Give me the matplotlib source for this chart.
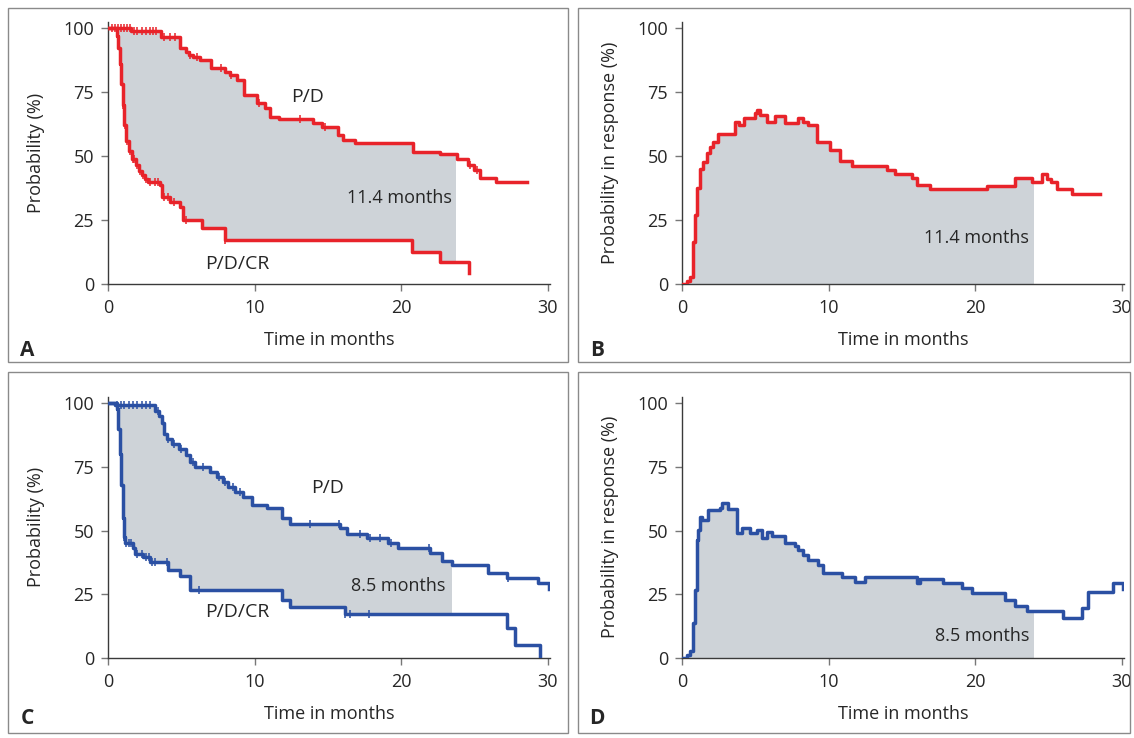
import numpy as np
import matplotlib
matplotlib.use("Agg")
import matplotlib.pyplot as plt
from matplotlib.patches import Rectangle

plt.rcParams['font.family'] = ['Open Sans', 'DejaVu Sans']

RED = '#e8232a'
BLUE = '#2b50a3'
FILL = '#ced3d8'
TXT = '#262626'

# panel A: survival curves (months, %)
a_pd_t = [0, 1.6, 3.6, 4.9, 5.3, 5.5, 5.8, 6.3, 7.0, 8.0, 8.3, 8.8, 9.3, 10.15, 10.75, 11.05, 11.7, 14.0,
          14.6, 15.7, 16.05, 16.85, 20.8, 22.65, 23.8, 24.6, 24.95, 25.4, 26.5, 28.6]
a_pd_y = [100, 99, 96.5, 92, 90.7, 89.5, 88.8, 87.5, 84.2, 83, 81.6, 79.7, 73.8, 70.6, 68.6, 65.4, 64.5, 62.8,
          61.5, 58.2, 56.3, 55, 51.7, 50.6, 48.8, 46.5, 44.5, 41.3, 39.7, 39.7]
a_cr_t = [0, 0.6, 0.7, 0.8, 0.9, 1.0, 1.1, 1.25, 1.45, 1.65, 1.9, 2.1, 2.3, 2.5, 2.7, 3.55, 3.66, 4.23,
          4.91, 5.14, 6.39, 8.0, 20.77, 22.66, 24.66]
a_cr_y = [100, 97, 92, 86, 78, 70, 62, 56, 52, 49, 46.5, 44, 42.5, 41, 40, 38.7, 34, 32,
          30, 25, 21.7, 17.2, 12.6, 8.5, 4.2]
a_pd_cens = [0.3, 0.5, 0.7, 0.9, 1.1, 1.3, 1.5, 1.8, 2.0, 2.3, 2.6, 2.9, 3.1, 3.3, 3.8, 4.2, 4.6,
             5.6, 6.1, 7.7, 8.4, 10.3, 13.1, 14.8, 24.7, 25.2]
a_cr_cens = [1.05, 1.15, 1.3, 1.5, 1.7, 1.8, 2.0, 2.2, 2.4, 2.6, 2.9, 3.2, 3.4, 3.8, 4.1, 4.5, 5.3, 8.0]
a_end = 23.75

# panel B: probability in response
b_t = [0, 0.32, 0.55, 0.77, 0.89, 1.0, 1.23, 1.46, 1.68, 1.91, 2.14, 2.43, 3.62, 3.89, 4.23, 4.98, 5.1,
       5.32, 5.78, 6.35, 7.03, 7.94, 8.28, 8.62, 9.19, 10.1, 10.78, 11.58, 13.97, 14.54, 15.68, 16.02,
       16.93, 20.8, 22.73, 23.87, 24.55, 24.9, 25.2, 25.57, 26.6, 28.53]
b_y = [0, 1.3, 2.6, 16.5, 27, 37.4, 45, 47.8, 51, 53.6, 55.6, 58.5, 63.4, 62, 64.7, 66.7, 68,
       66, 63.4, 65.8, 62.8, 65, 63.4, 62, 55.6, 52.3, 48, 46.2, 44.5, 42.8, 41.3, 38.7,
       37.1, 38.4, 41.3, 40, 42.8, 41, 40, 37.1, 35.2, 35.2]
b_end = 24.0

# panel C
c_pd_t = [0, 0.5, 3.21, 3.5, 3.66, 3.82, 4.0, 4.35, 4.87, 5.32, 5.6, 5.94, 6.96, 7.42, 7.87, 8.21, 8.67,
          9.24, 9.81, 10.83, 11.85, 12.42, 15.84, 16.29, 17.66, 19.14, 19.82, 21.98, 22.78, 23.46,
          25.96, 27.21, 29.37, 30.1]
c_pd_y = [100, 99.3, 97, 95, 92, 88, 86, 84, 82, 79.5, 77, 75, 73, 71, 69, 67, 65,
          63, 60, 58.7, 54.8, 52.5, 50.8, 48.6, 46.9, 45, 43, 41, 38.2, 36.5,
          33.2, 31.5, 29.3, 27]
c_cr_t = [0, 0.6, 0.7, 0.8, 0.9, 1.0, 1.08, 1.16, 1.73, 1.84, 2.41, 2.87, 4.12, 4.91, 5.6, 11.85,
          12.42, 16.18, 27.21, 27.78, 29.49]
c_cr_y = [100, 97.8, 90, 80, 68, 55, 47.6, 45, 43, 40.8, 39.8, 37.8, 34.5, 32, 26.7, 22.8,
          19.9, 17.3, 11.7, 5.2, 0]
c_pd_cens = [0.6, 0.9, 1.1, 1.4, 1.7, 2.0, 2.3, 2.6, 2.9, 3.4, 4.1, 4.5, 5.0, 5.8, 6.5, 7.6, 8.0, 8.5,
             9.0, 13.8, 15.8, 17.2, 17.9, 18.6, 19.3, 21.9, 27.3]
c_cr_cens = [1.1, 1.25, 1.4, 1.6, 2.0, 2.3, 2.6, 2.8, 3.0, 3.2, 4.0, 6.2, 16.2, 16.5, 17.8]
c_end = 23.46

# panel D
d_t = [0, 0.32, 0.55, 0.77, 0.89, 1.0, 1.12, 1.23, 1.34, 1.8, 2.59, 2.75, 3.16, 3.73, 4.07, 4.64, 5.1,
       5.44, 5.78, 6.12, 7.03, 7.71, 7.94, 8.28, 8.62, 9.31, 9.65, 10.9, 11.81, 12.49, 16.02, 16.25,
       17.84, 19.09, 19.77, 22.05, 22.73, 23.53, 26.03, 27.28, 27.74, 29.44, 30.1]
d_y = [0, 1, 2.6, 13.7, 26.7, 46.3, 50.2, 55.4, 54, 58, 59, 60.6, 58.5, 48.9, 50.8, 49.2, 50.2,
       47, 49.5, 48, 45.2, 43.9, 42.4, 40.4, 38.5, 36.5, 33.2, 31.7, 30, 31.9, 29.6, 31,
       29.3, 27.4, 25.4, 22.8, 20.5, 18.3, 15.6, 19.6, 25.7, 29.3, 27]
d_end = 24.0

W, H = 1134, 738
fig = plt.figure(figsize=(W / 100, H / 100), dpi=100)
FS = 13


def step_at(t, xs, ys):
    xs = np.asarray(xs)
    ys = np.asarray(ys)
    idx = np.searchsorted(xs, t, side='right') - 1
    return ys[np.clip(idx, 0, len(ys) - 1)]


def make_ax(x0, y0px, y100px, ylab):
    # x0: pixel of month 0, y0px / y100px: pixel rows of 0 % and 100 %
    ppm = 14.65
    ppp = (y0px - y100px) / 100.0
    top = y100px - 2.5 * ppp
    ax = fig.add_axes([x0 / W, 1 - y0px / H, 30.2 * ppm / W, (y0px - top) / H])
    ax.set_xlim(0, 30.2)
    ax.set_ylim(0, 102.5)
    for s in ['top', 'right']:
        ax.spines[s].set_visible(False)
    for s in ['left', 'bottom']:
        ax.spines[s].set_color('#3a3a3a')
        ax.spines[s].set_linewidth(1.0)
    ax.set_xticks([0, 10, 20, 30])
    ax.set_yticks([0, 25, 50, 75, 100])
    ax.tick_params(length=5, width=1, color='#777777', labelsize=FS, labelcolor=TXT, pad=5)
    ax.tick_params(axis='x', pad=6)
    ax.set_xlabel('Time in months', fontsize=FS, color=TXT, labelpad=10)
    ax.set_ylabel(ylab, fontsize=FS, color=TXT, labelpad=13)
    return ax


def draw_pair(ax, pd_t, pd_y, cr_t, cr_y, end, color, pd_cens, cr_cens):
    grid = np.union1d(pd_t, cr_t)
    grid = np.append(grid[grid < end], end)
    ax.fill_between(grid, step_at(grid, cr_t, cr_y), step_at(grid, pd_t, pd_y),
                    step='post', color=FILL, lw=0, zorder=1)
    ax.plot(pd_t, pd_y, drawstyle='steps-post', color=color, lw=2.5, zorder=3)
    ax.plot(cr_t, cr_y, drawstyle='steps-post', color=color, lw=2.5, zorder=3)
    ax.plot(pd_cens, step_at(pd_cens, pd_t, pd_y), ls='none', marker='|', ms=6, mew=1.1,
            color=color, zorder=4)
    ax.plot(cr_cens, step_at(cr_cens, cr_t, cr_y), ls='none', marker='|', ms=6, mew=1.1,
            color=color, zorder=4)


def draw_single(ax, t, y, end, color):
    grid = np.append(np.asarray(t)[np.asarray(t) < end], end)
    ax.fill_between(grid, 0, step_at(grid, t, y), step='post', color=FILL, lw=0, zorder=1)
    ax.plot(t, y, drawstyle='steps-post', color=color, lw=2.5, zorder=3)


# panel frames
for (x0, y0, x1, y1) in [(8, 8, 568, 362), (578, 8, 1130, 362),
                         (8, 372, 568, 733), (578, 372, 1130, 733)]:
    fig.patches.append(Rectangle((x0 / W, 1 - y1 / H), (x1 - x0) / W, (y1 - y0) / H,
                                 transform=fig.transFigure, fill=False,
                                 edgecolor='#8a8a8a', lw=1.0))

axA = make_ax(108, 284, 28, 'Probability (%)')
draw_pair(axA, a_pd_t, a_pd_y, a_cr_t, a_cr_y, a_end, RED, a_pd_cens, a_cr_cens)
axA.text(13.6, 73, 'P/D', fontsize=FS + 1, color=TXT, ha='center', va='center')
axA.text(19.9, 33.6, '11.4 months', fontsize=FS, color=TXT, ha='center', va='center', zorder=5)
axA.text(8.8, 8, 'P/D/CR', fontsize=FS + 1, color=TXT, ha='center', va='center')

axB = make_ax(682, 284, 28, 'Probability in response (%)')
draw_single(axB, b_t, b_y, b_end, RED)
axB.text(20.1, 18, '11.4 months', fontsize=FS, color=TXT, ha='center', va='center', zorder=5)

axC = make_ax(108, 658, 403, 'Probability (%)')
draw_pair(axC, c_pd_t, c_pd_y, c_cr_t, c_cr_y, c_end, BLUE, c_pd_cens, c_cr_cens)
axC.text(15.0, 66.5, 'P/D', fontsize=FS + 1, color=TXT, ha='center', va='center')
axC.text(19.8, 28.4, '8.5 months', fontsize=FS, color=TXT, ha='center', va='center', zorder=5)
axC.text(8.8, 18.2, 'P/D/CR', fontsize=FS + 1, color=TXT, ha='center', va='center')

axD = make_ax(682, 658, 403, 'Probability in response (%)')
draw_single(axD, d_t, d_y, d_end, BLUE)
axD.text(20.5, 8.8, '8.5 months', fontsize=FS, color=TXT, ha='center', va='center', zorder=5)

for lab, px, py in [('A', 27, 350), ('B', 597, 350), ('C', 27, 718), ('D', 597, 718)]:
    fig.text(px / W, 1 - py / H, lab, fontsize=15, fontweight='bold', color=TXT,
             ha='center', va='center')

fig.savefig('out.png', dpi=100)
